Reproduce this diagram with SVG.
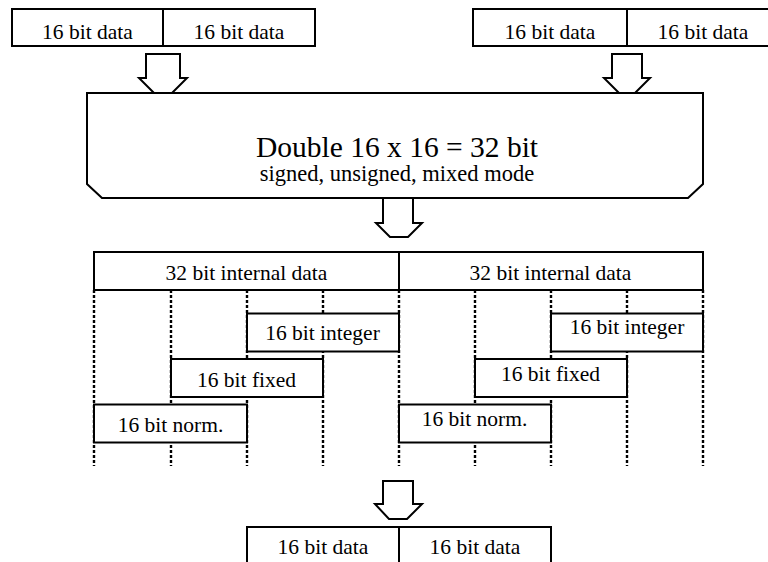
<svg xmlns="http://www.w3.org/2000/svg" width="768" height="562" viewBox="0 0 768 562">
  <style>
    .box { fill: #fff; stroke: #000; stroke-width: 2; }
    .ln { fill: none; stroke: #000; stroke-width: 2; }
    .dot { fill: none; stroke: #000; stroke-width: 2.4; stroke-dasharray: 3 2; }
    .arrow { fill: #fff; stroke: #000; stroke-width: 2; stroke-linejoin: miter; }
    .t { font-size: 21.5px; }
    .title { font-size: 29.5px; }
    .sub { font-size: 22.5px; }
  </style>

  <!-- connectors: hollow block arrows and dotted bit-position guides -->
  <g id="connectors">
    <path class="arrow" d="M146,54 H180 V78 H187 L172,93 H154 L139,78 H146 Z"/>
    <path class="arrow" d="M612,54 H642 V78 H650 L635,93 H619 L604,78 H612 Z"/>
    <path class="arrow" d="M383,198 H413 V223 H422 L408,237 H390 L376,223 H383 Z"/>
    <path class="arrow" d="M383,481 H413 V504 H422 L407,519 H389 L375,504 H383 Z"/>
    <g id="guides">
      <line class="dot" x1="94" y1="290" x2="94" y2="466"/>
      <line class="dot" x1="171" y1="290" x2="171" y2="466"/>
      <line class="dot" x1="247" y1="290" x2="247" y2="466"/>
      <line class="dot" x1="323" y1="290" x2="323" y2="466"/>
      <line class="dot" x1="399" y1="290" x2="399" y2="466"/>
      <line class="dot" x1="475" y1="290" x2="475" y2="466"/>
      <line class="dot" x1="551" y1="290" x2="551" y2="466"/>
      <line class="dot" x1="627" y1="290" x2="627" y2="466"/>
      <line class="dot" x1="703" y1="290" x2="703" y2="466"/>
    </g>
  </g>

  <g font-family="Liberation Serif, Tinos, Times New Roman, DejaVu Serif, serif" text-anchor="middle" fill="#000">
    <!-- input operands -->
    <g id="input-left">
      <rect class="box" x="12" y="9" width="303" height="37"/>
      <line class="ln" x1="163" y1="9" x2="163" y2="46"/>
      <text class="t" x="87.5" y="38.5">16 bit data</text>
      <text class="t" x="239" y="38.5">16 bit data</text>
    </g>
    <g id="input-right">
      <rect class="box" x="473" y="9" width="306" height="37"/>
      <line class="ln" x1="627" y1="9" x2="627" y2="46"/>
      <text class="t" x="550" y="38.5">16 bit data</text>
      <text class="t" x="703" y="38.5">16 bit data</text>
    </g>

    <!-- multiplier -->
    <g id="multiplier">
      <path class="box" d="M87,93 H703 V184 L688,198 H102 L87,184 Z"/>
      <text class="title" x="397" y="157">Double 16 x 16 = 32 bit</text>
      <text class="sub" x="397" y="181">signed, unsigned, mixed mode</text>
    </g>

    <!-- 32 bit internal results -->
    <g id="internal">
      <rect class="box" x="94" y="252" width="609" height="38"/>
      <line class="ln" x1="399" y1="252" x2="399" y2="290"/>
      <text class="t" x="246.5" y="279.5">32 bit internal data</text>
      <text class="t" x="550.5" y="279.5">32 bit internal data</text>
    </g>

    <!-- left lane formats -->
    <g id="int-left">
      <rect class="box" x="247" y="313.5" width="152" height="38"/>
      <text class="t" x="322.5" y="339.5">16 bit integer</text>
    </g>
    <g id="fixed-left">
      <rect class="box" x="171" y="359" width="152" height="38"/>
      <text class="t" x="246.5" y="386.5">16 bit fixed</text>
    </g>
    <g id="norm-left">
      <rect class="box" x="94" y="404.5" width="153" height="38"/>
      <text class="t" x="170.5" y="431.5">16 bit norm.</text>
    </g>

    <!-- right lane formats -->
    <g id="int-right">
      <rect class="box" x="551" y="313.5" width="152" height="38"/>
      <text class="t" x="627" y="333.5">16 bit integer</text>
    </g>
    <g id="fixed-right">
      <rect class="box" x="475" y="359" width="152" height="38"/>
      <text class="t" x="550.5" y="380.5">16 bit fixed</text>
    </g>
    <g id="norm-right">
      <rect class="box" x="399" y="404.5" width="152" height="38"/>
      <text class="t" x="474.5" y="425.5">16 bit norm.</text>
    </g>

    <!-- packed output -->
    <g id="output">
      <rect class="box" x="247" y="527" width="304" height="40"/>
      <line class="ln" x1="399" y1="527" x2="399" y2="567"/>
      <text class="t" x="323" y="553.5">16 bit data</text>
      <text class="t" x="475" y="553.5">16 bit data</text>
    </g>
  </g>
</svg>
